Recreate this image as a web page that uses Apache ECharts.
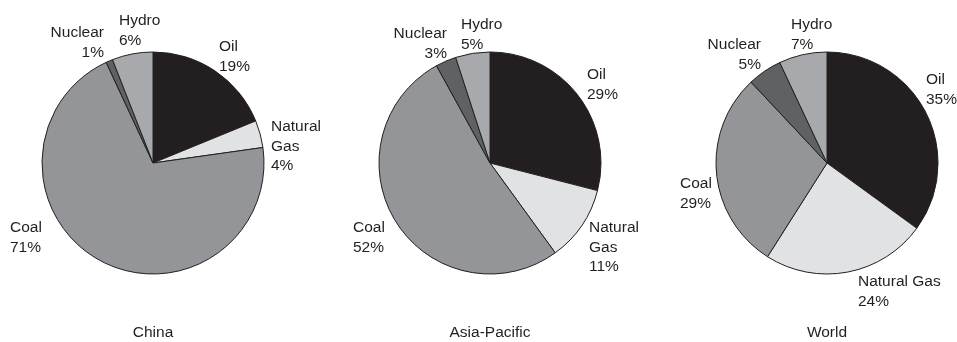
<!DOCTYPE html>
<html>
<head>
<meta charset="utf-8">
<title>Primary energy consumption by fuel</title>
<script src="https://cdn.jsdelivr.net/npm/echarts@6/dist/echarts.min.js"></script>
<style>
  html, body { margin: 0; padding: 0; background: #ffffff; }
  #chart { width: 957px; height: 342px; }
</style>
</head>
<body>
<div id="chart"></div>
<script>
// Fuel categories, clockwise from 12 o'clock
const fuels = ['Oil', 'Natural Gas', 'Coal', 'Nuclear', 'Hydro'];

// Region names (drawn under each pie)
const regions = ['China', 'Asia-Pacific', 'World'];

// Share of primary energy consumption, percent
const chinaShares = [19, 4, 71, 1, 6];
const asiaPacificShares = [29, 11, 52, 3, 5];
const worldShares = [35, 24, 29, 5, 7];

const regionShares = [chinaShares, asiaPacificShares, worldShares];

// Fill for each fuel slice
const fuelColors = ['#231f20', '#e1e2e4', '#939598', '#606163', '#a7a9ac'];

// Pie placement
const pieCenters = [[153, 163], [490, 163], [827, 163]];
const pieRadius = 111;

// Label anchor (top edge of the text block) and alignment for each slice label
const labelSpots = [
  [[219, 37, 'left'], [271, 117, 'left'], [10, 218, 'left'], [104, 23, 'right'], [119, 11, 'left']],
  [[587, 65, 'left'], [589, 218, 'left'], [353, 218, 'left'], [447, 24, 'right'], [461, 15, 'left']],
  [[926, 70, 'left'], [858, 272, 'left'], [680, 174, 'left'], [761, 35, 'right'], [791, 15, 'left']]
];
// Whether "Natural Gas" breaks onto two lines in each pie
const wrapGas = [true, true, false];

const textColor = '#231f20';
const fontFamily = '"Liberation Sans", Arial, Helvetica, sans-serif';
const fontSize = 15.5;

const chart = echarts.init(document.getElementById('chart'), null, { renderer: 'canvas' });

const series = regionShares.map(function (shares, r) {
  return {
    type: 'pie',
    center: pieCenters[r],
    radius: pieRadius,
    startAngle: 90,
    clockwise: true,
    avoidLabelOverlap: false,
    silent: true,
    animation: false,
    itemStyle: { borderColor: '#231f20', borderWidth: 1 },
    label: {
      show: true,
      position: 'outside',
      color: textColor,
      fontFamily: fontFamily,
      fontSize: fontSize,
      lineHeight: 19.5,
      formatter: function (p) {
        let name = p.name;
        if (name === 'Natural Gas' && wrapGas[r]) name = 'Natural\nGas';
        return name + '\n' + p.value + '%';
      }
    },
    labelLine: { show: false },
    labelLayout: function (params) {
      const spot = labelSpots[r][params.dataIndex];
      return { x: spot[0], y: spot[1], align: spot[2], verticalAlign: 'top' };
    },
    data: fuels.map(function (f, i) {
      return { name: f, value: shares[i], itemStyle: { color: fuelColors[i] } };
    })
  };
});

const titles = regions.map(function (name, r) {
  return {
    text: name,
    left: pieCenters[r][0],
    top: 323,
    textAlign: 'center',
    padding: 0,
    textStyle: {
      color: textColor,
      fontFamily: fontFamily,
      fontSize: fontSize,
      fontWeight: 'normal',
      lineHeight: 19
    }
  };
});

chart.setOption({
  backgroundColor: '#ffffff',
  animation: false,
  title: titles,
  series: series
});
</script>
</body>
</html>
